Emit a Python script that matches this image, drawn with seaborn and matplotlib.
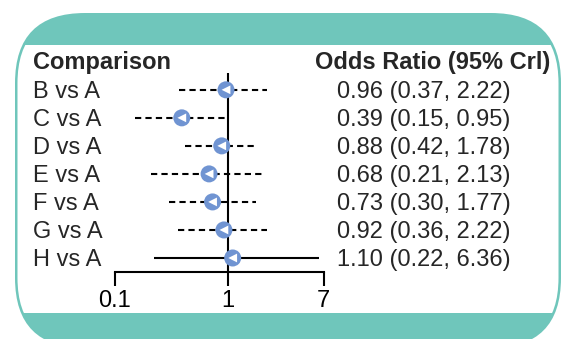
import numpy as np
import pandas as pd
import seaborn as sns
import matplotlib.pyplot as plt
from matplotlib.patches import FancyBboxPatch, Rectangle
from matplotlib.transforms import IdentityTransform, blended_transform_factory

# data
comparisons = ['B vs A', 'C vs A', 'D vs A', 'E vs A', 'F vs A', 'G vs A', 'H vs A']
odds_ratio = [0.96, 0.39, 0.88, 0.68, 0.73, 0.92, 1.10]
lower = [0.37, 0.15, 0.42, 0.21, 0.30, 0.36, 0.22]
upper = [2.22, 0.95, 1.78, 2.13, 1.77, 2.22, 6.36]
evidence = ['indirect', 'indirect', 'indirect', 'indirect', 'indirect', 'indirect', 'direct']
x_ticks = [0.1, 1, 7]
x_tick_labels = ['0.1', '1', '7']

df = pd.DataFrame({'comparison': comparisons, 'or': odds_ratio,
                   'lo': lower, 'hi': upper, 'evidence': evidence})
df['row'] = np.arange(len(df))
df['label'] = [f"{o:.2f} ({l:.2f}, {h:.2f})" for o, l, h in zip(df['or'], df['lo'], df['hi'])]

sns.set_style('white')
plt.rcParams['font.family'] = ['Liberation Sans', 'DejaVu Sans']

teal = '#6fc6bb'
blue = '#7094d2'
W, H = 564, 339

fig = plt.figure(figsize=(W / 100, H / 100), dpi=100)
fig.patch.set_facecolor('white')

# rounded teal frame with white middle band (pixel coords, origin bottom-left)
outer = FancyBboxPatch((15, H - 348), 546, 335, boxstyle='round,pad=0,rounding_size=70',
                       transform=IdentityTransform(), facecolor=teal, edgecolor='none', zorder=-3)
fig.add_artist(outer)
inner = FancyBboxPatch((17.5, H - 345.5), 541, 330, boxstyle='round,pad=0,rounding_size=67.5',
                       transform=IdentityTransform(), facecolor='none', edgecolor='none')
band = Rectangle((0, H - 313), W, 313 - 45, transform=IdentityTransform(),
                 facecolor='white', edgecolor='none', zorder=-2)
fig.add_artist(band)
band.set_clip_path(inner)

ax = fig.add_axes([115 / W, 1 - 272 / H, 208.5 / W, 199 / H])
ax.set_facecolor('none')
ax.set_xscale('log')
ax.set_xlim(0.1, 7)
ax.set_ylim(6.5, -0.6)

ax.axvline(1, color='black', lw=1.5, zorder=1)

for _, r in df.iterrows():
    ls = (0, (3, 2)) if r['evidence'] == 'indirect' else '-'
    ax.hlines(r['row'], r['lo'], r['hi'], color='black', lw=1.5, linestyle=ls, zorder=2)

sns.scatterplot(data=df, x='or', y='row', ax=ax, marker='o', s=150,
                color=blue, edgecolor='none', zorder=3, legend=False)
sns.scatterplot(data=df, x='or', y='row', ax=ax, marker='<', s=40,
                color='white', edgecolor='none', zorder=4, legend=False)

ax.set_xlabel('')
ax.set_ylabel('')
ax.set_yticks([])
ax.set_xticks(x_ticks)
ax.set_xticklabels(x_tick_labels)
ax.minorticks_off()
ax.tick_params(axis='x', direction='out', length=10, width=1.5, pad=3,
               labelsize=17, bottom=True, colors='black')
for side in ['left', 'right', 'top']:
    ax.spines[side].set_visible(False)
ax.spines['bottom'].set_linewidth(1.5)
ax.spines['bottom'].set_color('black')

# text columns
tr = blended_transform_factory(fig.transFigure, ax.transData)
fs = 17
ax.text(33 / W, -1.07, 'Comparison', transform=tr, fontsize=fs, fontweight='bold',
        ha='left', va='center_baseline', clip_on=False)
ax.text(315 / W, -1.07, 'Odds Ratio (95% Crl)', transform=tr, fontsize=fs, fontweight='bold',
        ha='left', va='center_baseline', clip_on=False)
for _, r in df.iterrows():
    ax.text(33 / W, r['row'], r['comparison'], transform=tr, fontsize=fs,
            ha='left', va='center_baseline', clip_on=False)
    ax.text(337 / W, r['row'], r['label'], transform=tr, fontsize=fs,
            ha='left', va='center_baseline', clip_on=False)

fig.savefig('out.png', dpi=100)
